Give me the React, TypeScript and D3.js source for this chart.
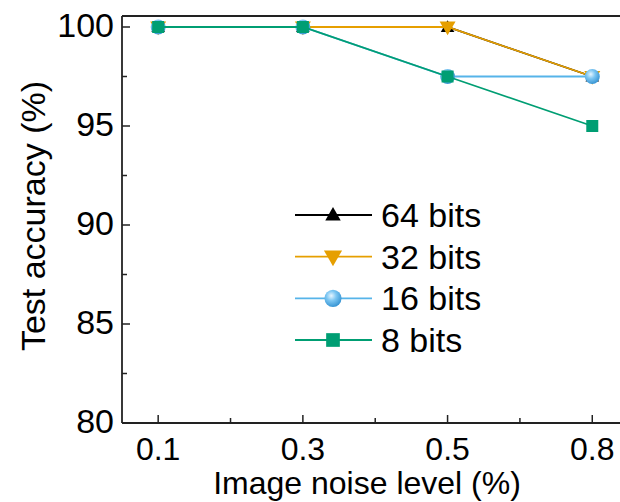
import React from "react";
import * as d3 from "d3";

const noiseLevels = ["0.1", "0.3", "0.5", "0.8"];
const acc64 = [100, 100, 100, 97.5];
const acc32 = [100, 100, 100, 97.5];
const acc16 = [100, 100, 97.5, 97.5];
const acc8 = [100, 100, 97.5, 95];
const yTicks = [80, 85, 90, 95, 100];
const yMinor = [82.5, 87.5, 92.5, 97.5];

const series = [
  { name: "64 bits", values: acc64, color: "#000000", marker: "up" },
  { name: "32 bits", values: acc32, color: "#E69F00", marker: "down" },
  { name: "16 bits", values: acc16, color: "#56B4E9", marker: "ball" },
  { name: "8 bits", values: acc8, color: "#009E73", marker: "square" },
];

const W = 620;
const H = 502;
const left = 122;
const top = 16;
const bottom = 423;
const font = "Liberation Sans, Arial, Helvetica, sans-serif";

const Marker = ({ type, color, x, y, s = 1 }) => {
  if (type === "up") {
    const p = d3.symbol(d3.symbolTriangle, 80 * s)();
    return <path d={p} transform={`translate(${x},${y + 1})`} fill={color} />;
  }
  if (type === "down") {
    const p = d3.symbol(d3.symbolTriangle, 110 * s)();
    return <path d={p} transform={`translate(${x},${y - 1}) rotate(180)`} fill={color} />;
  }
  if (type === "ball") {
    return <circle cx={x} cy={y} r={7.5 * Math.sqrt(s)} fill="url(#ballGrad)" />;
  }
  const a = 12 * Math.sqrt(s);
  return <rect x={x - a / 2} y={y - a / 2} width={a} height={a} fill={color} />;
};

export default function App() {
  const x = d3.scalePoint().domain(noiseLevels).range([left, left + 144.7 * 3.5]).padding(0.25);
  const y = d3.scaleLinear().domain([80, 100 + (27 - 16) / 19.8]).range([bottom, top]);
  const xMinor = noiseLevels.slice(1).map((d, i) => (x(noiseLevels[i]) + x(d)) / 2);

  const line = d3
    .line<number>()
    .x((_, i) => x(noiseLevels[i]))
    .y((d) => y(d));

  const legendY = d3.scaleLinear().domain([0, 3]).range([215, 340]);

  return (
    <svg width={W} height={H} style={{ position: "absolute", left: 0, top: 0 }} fontFamily={font}>
      <defs>
        <radialGradient id="ballGrad" cx="0.4" cy="0.35" r="0.65">
          <stop offset="0" stopColor="#e6f5ff" />
          <stop offset="0.45" stopColor="#7cc6f2" />
          <stop offset="1" stopColor="#3a96d4" />
        </radialGradient>
      </defs>
      <rect width={W} height={H} fill="#fff" />

      {/* axes frame */}
      <line x1={left} x2={W} y1={top} y2={top} stroke="#222" strokeWidth={1.8} />
      <line x1={left} x2={left} y1={top} y2={bottom} stroke="#222" strokeWidth={1.8} />
      <line x1={left} x2={W} y1={bottom} y2={bottom} stroke="#222" strokeWidth={1.8} />

      {yTicks.map((t) => (
        <g key={t}>
          <line x1={left} x2={left + 8} y1={y(t)} y2={y(t)} stroke="#222" strokeWidth={1.5} />
          <text x={left - 8} y={y(t) + 10} textAnchor="end" fontSize={34}>
            {t}
          </text>
        </g>
      ))}
      {yMinor.map((t) => (
        <line key={t} x1={left} x2={left + 5} y1={y(t)} y2={y(t)} stroke="#222" strokeWidth={1.5} />
      ))}
      {noiseLevels.map((d) => (
        <g key={d}>
          <line x1={x(d)} x2={x(d)} y1={bottom} y2={bottom - 8} stroke="#222" strokeWidth={1.5} />
          <text x={x(d)} y={460} textAnchor="middle" fontSize={32}>
            {d}
          </text>
        </g>
      ))}
      {xMinor.map((v) => (
        <line key={v} x1={v} x2={v} y1={bottom} y2={bottom - 5} stroke="#222" strokeWidth={1.5} />
      ))}

      <text x={367} y={494} textAnchor="middle" fontSize={32}>
        Image noise level (%)
      </text>
      <text transform="translate(45,216) rotate(-90)" textAnchor="middle" fontSize={34}>
        Test accuracy (%)
      </text>

      {/* series */}
      {series.map((s) => (
        <g key={s.name}>
          <path d={line(s.values)} fill="none" stroke={s.color} strokeWidth={1.8} />
          {s.values.map((v, i) => (
            <Marker key={i} type={s.marker} color={s.color} x={x(noiseLevels[i])} y={y(v)} />
          ))}
        </g>
      ))}

      {/* legend */}
      {series.map((s, i) => (
        <g key={s.name} transform={`translate(0,${legendY(i)})`}>
          <line x1={295} x2={372} y1={0} y2={0} stroke={s.color} strokeWidth={1.8} />
          <Marker type={s.marker} color={s.color} x={333} y={0} s={1.3} />
          <text x={381} y={12} fontSize={34}>
            {s.name}
          </text>
        </g>
      ))}
    </svg>
  );
}
